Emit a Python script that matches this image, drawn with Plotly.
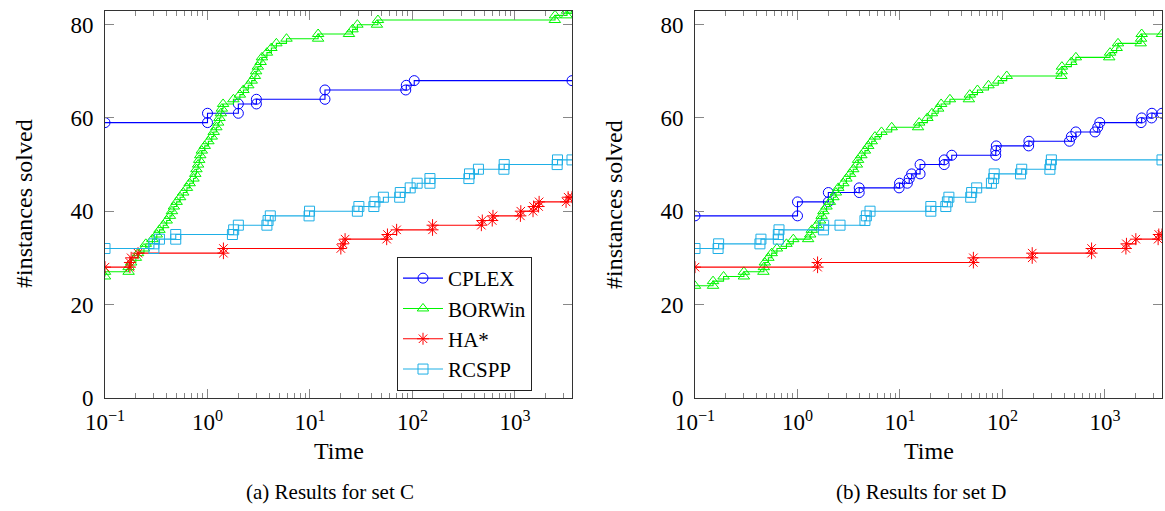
import math
import plotly.graph_objects as go

# ---------------- Data: set C ----------------
cplex_c_t = [0.1, 1.0, 1.0, 2.0, 2.0, 3.0, 3.0, 14, 14, 86, 87, 104, 3600]
cplex_c_n = [59, 59, 61, 61, 63, 63, 64, 64, 66, 66, 67, 68, 68]

borwin_c_t = [0.1, 0.1, 0.17, 0.17, 0.18, 0.2, 0.21, 0.24, 0.25, 0.29, 0.32, 0.34, 0.37, 0.40,
              0.43, 0.45, 0.47, 0.50, 0.54, 0.58, 0.63, 0.67, 0.73, 0.76, 0.78, 0.81, 0.83, 0.85,
              0.88, 0.94, 1.02, 1.1, 1.15, 1.22, 1.27, 1.31, 1.35, 1.38, 1.42, 1.79, 2.07, 2.24,
              2.5, 2.7, 2.9, 2.98, 3.1, 3.3, 3.4, 3.8, 4.2, 4.7, 5.9, 12, 12, 24, 26, 29, 45, 46,
              2450, 2460, 3200, 3220, 3600]
borwin_c_n = [26, 27, 27, 28, 29, 30, 31, 32, 33, 34, 35, 36, 37, 38, 39, 40, 41, 42, 43, 44, 45,
              46, 47, 48, 49, 50, 51, 52, 53, 54, 55, 56, 57, 58, 59, 60, 61, 62, 63, 64, 65, 66,
              67, 68, 69, 70, 71, 72, 73, 74, 75, 76, 77, 77, 78, 78, 79, 80, 80, 81, 81, 82, 82,
              83, 83]

ha_c_t = [0.1, 0.175, 0.175, 0.18, 0.21, 1.43, 1.43, 20, 21, 22, 56, 57, 70, 157, 157, 470, 480,
          600, 610, 1130, 1140, 1500, 1520, 1700, 1720, 3150, 3300, 3600]
ha_c_n = [28, 28, 29, 30, 31, 31, 32, 32, 33, 34, 34, 35, 36, 36, 37, 37, 38, 38, 39, 39, 40, 40,
          41, 41, 42, 42, 43, 43]

rcspp_c_t = [0.1, 0.3, 0.3, 0.34, 0.49, 0.49, 1.75, 1.8, 2.0, 3.8, 3.9, 4.1, 9.8, 9.9, 29, 30, 42,
             43, 52, 75, 76, 95, 111, 148, 148, 355, 360, 440, 780, 785, 2580, 2600, 3600]
rcspp_c_n = [32, 32, 33, 34, 34, 35, 35, 36, 37, 37, 38, 39, 39, 40, 40, 41, 41, 42, 43, 43, 44,
             45, 46, 46, 47, 47, 48, 49, 49, 50, 50, 51, 51]

# ---------------- Data: set D ----------------
cplex_d_t = [0.1, 1.0, 1.0, 2.0, 2.0, 4.0, 4.0, 9.8, 9.9, 11.8, 12.3, 13, 15.7, 15.7, 27, 27, 32,
             86, 86, 87, 180, 181, 450, 470, 520, 800, 850, 890, 2250, 2280, 2850, 2870, 3600]
cplex_d_n = [39, 39, 42, 42, 44, 44, 45, 45, 46, 46, 47, 48, 48, 50, 50, 51, 52, 52, 53, 54, 54,
             55, 55, 56, 57, 57, 58, 59, 59, 60, 60, 61, 61]

borwin_d_t = [0.1, 0.15, 0.15, 0.19, 0.3, 0.3, 0.465, 0.47, 0.48, 0.52, 0.56, 0.63, 0.78, 0.91,
              1.27, 1.33, 1.38, 1.54, 1.66, 1.72, 1.79, 1.92, 2.07, 2.24, 2.37, 2.5, 2.8, 3.0,
              3.26, 3.5, 3.8, 3.9, 4.2, 4.55, 4.9, 5.3, 5.7, 6.6, 8.3, 15, 15.4, 18.5, 20.5, 23.6,
              25.2, 30.7, 47, 48, 57, 73, 91, 110, 375, 378, 380, 470, 520, 1100, 1120, 1300,
              1340, 2230, 2250, 2280, 3600]
borwin_d_n = [24, 24, 25, 26, 26, 27, 27, 28, 29, 30, 31, 32, 33, 34, 34, 35, 36, 37, 38, 39, 40,
              41, 42, 43, 44, 45, 46, 47, 48, 49, 50, 51, 52, 53, 54, 55, 56, 57, 58, 58, 59, 60,
              61, 62, 63, 64, 64, 65, 66, 67, 68, 69, 69, 70, 71, 72, 73, 73, 74, 75, 76, 76, 77,
              78, 78]

ha_d_t = [0.1, 1.57, 1.57, 52, 52, 195, 195, 740, 740, 1600, 1620, 2000, 3300, 3350, 3600]
ha_d_n = [28, 28, 29, 29, 30, 30, 31, 31, 32, 32, 33, 34, 34, 35, 35]

rcspp_d_t = [0.1, 0.168, 0.17, 0.43, 0.44, 0.65, 0.65, 0.66, 1.79, 1.8, 2.6, 4.55, 4.7, 5.1, 20,
             20, 28, 29, 30, 49, 50, 56, 78, 82, 83, 150, 154, 290, 295, 300, 3600]
rcspp_d_n = [32, 32, 33, 33, 34, 34, 35, 36, 36, 37, 37, 38, 39, 40, 40, 41, 41, 42, 43, 43, 44,
             45, 46, 47, 48, 48, 49, 49, 50, 51, 51]

x_tick_vals = [0.1, 1, 10, 100, 1000]
x_tick_text = ["10<sup>−1</sup>", "10<sup>0</sup>", "10<sup>1</sup>", "10<sup>2</sup>", "10<sup>3</sup>"]
y_tick_vals = [0, 20, 40, 60, 80]
y_tick_text = ["0", "20", "40", "60", "80"]

series_names = ["CPLEX", "BORWin", "HA*", "RCSPP"]
series_colors = ["rgb(0,0,255)", "rgb(0,245,0)", "rgb(255,0,0)", "rgb(30,175,230)"]
series_symbols = ["circle-open", "triangle-up-open", "asterisk-open", "square-open"]
series_sizes = [10, 10, 10, 10]

set_c = [(cplex_c_t, cplex_c_n), (borwin_c_t, borwin_c_n), (ha_c_t, ha_c_n), (rcspp_c_t, rcspp_c_n)]
set_d = [(cplex_d_t, cplex_d_n), (borwin_d_t, borwin_d_n), (ha_d_t, ha_d_n), (rcspp_d_t, rcspp_d_n)]

FONT = "Liberation Serif, Times New Roman, serif"
W, H = 1165, 511

fig = go.Figure()
for panel, data in enumerate([set_c, set_d]):
    xa = "x" if panel == 0 else "x2"
    ya = "y" if panel == 0 else "y2"
    for i, (t, n) in enumerate(data):
        fig.add_trace(go.Scatter(
            x=t, y=n, mode="lines+markers", name=series_names[i],
            line=dict(color=series_colors[i], width=1.1, shape="hv"),
            marker=dict(symbol=series_symbols[i], size=series_sizes[i],
                        color=series_colors[i], line=dict(color=series_colors[i], width=1)),
            xaxis=xa, yaxis=ya, showlegend=(panel == 0), legendrank=i,
        ))

minor_vals = []
for d in range(-1, 4):
    for k in range(2, 10):
        v = k * 10 ** d
        if v <= 3600:
            minor_vals.append(v)

common = dict(showline=True, linecolor="#333333", linewidth=1, mirror="allticks",
              ticks="inside", ticklen=9, tickcolor="#888888", tickwidth=1,
              showgrid=False, zeroline=False, automargin=False,
              tickfont=dict(family=FONT, size=23, color="black"))

xrange = [-1, math.log10(3600)]
ydom = [1 - 397.7 / H, 1 - 10.7 / H]

xaxis_style = dict(common, type="log", range=xrange, tickmode="array",
                   tickvals=x_tick_vals, ticktext=x_tick_text, ticklabelstandoff=4,
                   minor=dict(tickmode="array", tickvals=minor_vals, ticks="inside",
                              ticklen=5, tickcolor="#888888", tickwidth=1, showgrid=False))
yaxis_style = dict(common, range=[0, 83], tickmode="array", tickvals=y_tick_vals,
                   ticktext=y_tick_text, ticklabelstandoff=6)

fig.update_layout(
    width=W, height=H,
    margin=dict(l=0, r=0, t=0, b=0, autoexpand=False),
    paper_bgcolor="white", plot_bgcolor="white",
    font=dict(family=FONT, color="black"),
    xaxis=dict(xaxis_style, domain=[105 / W, 572 / W], anchor="y"),
    yaxis=dict(yaxis_style, domain=ydom, anchor="x"),
    xaxis2=dict(xaxis_style, domain=[695 / W, 1162 / W], anchor="y2"),
    yaxis2=dict(yaxis_style, domain=ydom, anchor="x2"),
    legend=dict(x=397 / W, y=1 - 257 / H, xanchor="left", yanchor="top",
                bgcolor="white", bordercolor="#222222", borderwidth=1,
                font=dict(family=FONT, size=21, color="black"),
                itemwidth=40, traceorder="normal"),
    showlegend=True,
)

annots = [
    dict(text="Time", x=338.5 / W, y=1 - 451 / H, font_size=24),
    dict(text="Time", x=928.5 / W, y=1 - 451 / H, font_size=24),
    dict(text="#instances solved", x=24 / W, y=1 - 204 / H, font_size=24, textangle=-90),
    dict(text="#instances solved", x=614 / W, y=1 - 204 / H, font_size=24, textangle=-90),
    dict(text="(a) Results for set C", x=330 / W, y=1 - 492 / H, font_size=21),
    dict(text="(b) Results for set D", x=921 / W, y=1 - 492 / H, font_size=21),
]
for a in annots:
    fig.add_annotation(text=a["text"], x=a["x"], y=a["y"], xref="paper", yref="paper",
                       xanchor="center", yanchor="middle", showarrow=False,
                       textangle=a.get("textangle", 0),
                       font=dict(family=FONT, size=a["font_size"], color="black"))

fig.write_html("out.html", config={"displayModeBar": False},
               post_script="document.body.style.margin='0';document.body.style.overflow='hidden';")
